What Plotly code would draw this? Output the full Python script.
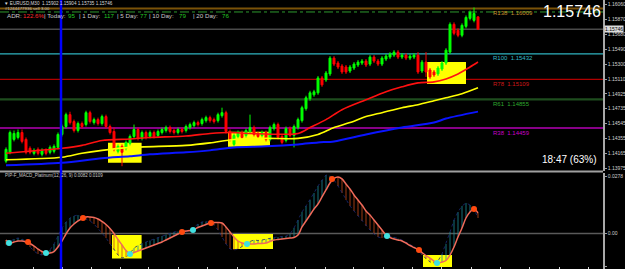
import plotly.graph_objects as go

# ---------------- price candles (EURUSD M30) ----------------
opens = [1.14068,1.14181,1.14345,1.14370,1.14433,1.14345,1.14232,1.14168,1.14219,1.14156,
         1.14206,1.14181,1.14194,1.14244,1.14408,1.14509,1.14660,1.14572,1.14458,1.14547,
         1.14534,1.14685,1.14559,1.14597,1.14547,1.14635,1.14509,1.14446,1.14194,1.14257,
         1.14232,1.14295,1.14383,1.14471,1.14358,1.14433,1.14383,1.14433,1.14395,1.14433,
         1.14458,1.14496,1.14458,1.14433,1.14471,1.14458,1.14496,1.14521,1.14559,1.14547,
         1.14584,1.14622,1.14597,1.14584,1.14647,1.14685,1.14446,1.14282,1.14383,1.14433,
         1.14395,1.14446,1.14496,1.14421,1.14395,1.14433,1.14345,1.14484,1.14534,1.14383,
         1.14332,1.14484,1.14395,1.14496,1.14584,1.14736,1.14862,1.14912,1.14937,1.15126,
         1.15101,1.15177,1.15378,1.15315,1.15277,1.15265,1.15214,1.15252,1.15290,1.15315,
         1.15340,1.15302,1.15391,1.15340,1.15302,1.15366,1.15391,1.15416,1.15454,1.15391,
         1.15416,1.15378,1.15391,1.15416,1.15214,1.15327,1.15227,1.15202,1.15177,1.15239,
         1.15315,1.15454,1.15807,1.15731,1.15668,1.15781,1.15882,1.15857,1.15902]
highs = [1.14244,1.14458,1.14458,1.14471,1.14471,1.14370,1.14257,1.14232,1.14244,1.14232,
         1.14232,1.14269,1.14282,1.14433,1.14534,1.14685,1.14697,1.14597,1.14572,1.14572,
         1.14710,1.14710,1.14622,1.14622,1.14660,1.14660,1.14534,1.14496,1.14282,1.14282,
         1.14332,1.14408,1.14534,1.14496,1.14458,1.14458,1.14458,1.14458,1.14471,1.14496,
         1.14521,1.14521,1.14484,1.14496,1.14496,1.14534,1.14559,1.14584,1.14584,1.14622,
         1.14647,1.14647,1.14622,1.14685,1.14748,1.14710,1.14471,1.14421,1.14458,1.14458,
         1.14484,1.14660,1.14521,1.14446,1.14458,1.14458,1.14521,1.14559,1.14559,1.14408,
         1.14509,1.14509,1.14534,1.14622,1.14773,1.14900,1.14963,1.14975,1.15151,1.15151,
         1.15214,1.15403,1.15403,1.15340,1.15302,1.15290,1.15290,1.15327,1.15353,1.15366,
         1.15366,1.15416,1.15416,1.15366,1.15403,1.15429,1.15454,1.15479,1.15479,1.15441,
         1.15441,1.15429,1.15441,1.15454,1.15353,1.15454,1.15252,1.15227,1.15277,1.15340,
         1.15504,1.15832,1.15832,1.15756,1.15819,1.15920,1.15983,1.16021,1.15904]
lows = [1.14043,1.14156,1.14320,1.14345,1.14295,1.14156,1.14156,1.14143,1.14143,1.14130,
        1.14143,1.14156,1.14168,1.14219,1.14383,1.14484,1.14534,1.14433,1.14433,1.14484,
        1.14509,1.14547,1.14534,1.14521,1.14521,1.14484,1.14408,1.14194,1.14168,1.14005,
        1.14206,1.14269,1.14358,1.14332,1.14332,1.14345,1.14358,1.14358,1.14370,1.14408,
        1.14433,1.14421,1.14408,1.14408,1.14421,1.14433,1.14471,1.14496,1.14509,1.14521,
        1.14559,1.14559,1.14547,1.14559,1.14622,1.14421,1.14320,1.14257,1.14358,1.14345,
        1.14370,1.14421,1.14383,1.14358,1.14370,1.14320,1.14320,1.14458,1.14345,1.14282,
        1.14307,1.14370,1.14244,1.14471,1.14559,1.14710,1.14836,1.14887,1.14912,1.15013,
        1.15076,1.15151,1.15277,1.15239,1.15177,1.15177,1.15189,1.15227,1.15265,1.15290,
        1.15265,1.15277,1.15315,1.15277,1.15277,1.15340,1.15366,1.15391,1.15366,1.15366,
        1.15353,1.15353,1.15366,1.15177,1.15189,1.15139,1.15114,1.15139,1.15151,1.15214,
        1.15290,1.15429,1.15668,1.15643,1.15643,1.15756,1.15857,1.15832,1.15735]
closes = [1.14219,1.14433,1.14421,1.14433,1.14320,1.14181,1.14181,1.14206,1.14168,1.14206,
          1.14168,1.14244,1.14257,1.14408,1.14509,1.14660,1.14559,1.14458,1.14547,1.14509,
          1.14685,1.14572,1.14597,1.14547,1.14635,1.14509,1.14433,1.14219,1.14257,1.14181,
          1.14307,1.14383,1.14471,1.14358,1.14433,1.14370,1.14433,1.14383,1.14446,1.14471,
          1.14496,1.14446,1.14433,1.14471,1.14446,1.14509,1.14534,1.14559,1.14534,1.14597,
          1.14622,1.14584,1.14572,1.14660,1.14685,1.14446,1.14345,1.14395,1.14433,1.14370,
          1.14458,1.14496,1.14408,1.14383,1.14433,1.14345,1.14496,1.14534,1.14370,1.14307,
          1.14484,1.14395,1.14509,1.14597,1.14748,1.14874,1.14937,1.14950,1.15126,1.15038,
          1.15189,1.15378,1.15302,1.15265,1.15202,1.15202,1.15265,1.15302,1.15327,1.15340,
          1.15290,1.15391,1.15340,1.15302,1.15378,1.15403,1.15429,1.15454,1.15391,1.15416,
          1.15378,1.15403,1.15416,1.15202,1.15327,1.15202,1.15139,1.15164,1.15252,1.15315,
          1.15479,1.15807,1.15693,1.15668,1.15794,1.15895,1.15958,1.15945,1.15746]

# ---------------- moving averages (read at sample bars) ----------------
red_ma_idx = [0,10,14,19,24,31,36,45,51,56,61,73,76,80,84,90,95,99,103,107,110,113,116,118]
red_ma = [1.14169,1.14213,1.14232,1.14269,1.14332,1.14351,1.14370,1.14389,1.14421,1.14433,1.14421,1.14421,
          1.14496,1.14597,1.14723,1.14849,1.14950,1.15013,1.15063,1.15076,1.15114,1.15177,1.15265,1.15328]
yellow_ma_idx = [0,14,19,24,31,45,51,57,65,73,78,82,86,90,94,99,103,107,110,114,118]
yellow_ma = [1.14087,1.14118,1.14169,1.14206,1.14244,1.14269,1.14301,1.14345,1.14358,1.14358,1.14408,
             1.14496,1.14559,1.14635,1.14685,1.14748,1.14786,1.14836,1.14874,1.14925,1.15000]
blue_ma_idx = [0,14,24,31,36,45,51,57,65,73,78,82,90,99,107,110,118]
blue_ma = [1.14017,1.14049,1.14106,1.14131,1.14156,1.14181,1.14206,1.14244,1.14257,1.14282,1.14307,
           1.14320,1.14408,1.14496,1.14559,1.14610,1.14698]

# ---------------- horizontal levels ----------------
level_names = ["R138  1.16009", "R100  1.15432", "R78  1.15109", "R61  1.14855", "R38  1.14459"]
level_prices = [1.16009, 1.15432, 1.15109, 1.14855, 1.14490]
level_colors = ["#7a5208", "#2fb3c0", "#b00000", "#1e4d1e", "#b400b4"]
level_text_colors = ["#c8902c", "#35b8c8", "#d01818", "#2ea82e", "#c800c8"]
level_widths = [2, 1.2, 1.2, 2.2, 1.3]
adr_line_price = 1.15964
last_price = 1.15746

# ---------------- MACD panel ----------------
signal_vals = [-0.00315,-0.00460,-0.00411,-0.00363,-0.00363,-0.00411,-0.00484,-0.00605,-0.00750,-0.00871,
               -0.00944,-0.00944,-0.00871,-0.00653,-0.00363,-0.00024,0.00266,0.00460,0.00605,0.00726,
               0.00799,0.00799,0.00774,0.00702,0.00581,0.00436,0.00242,0.00000,-0.00290,-0.00557,
               -0.00823,-0.00992,-0.00920,-0.00847,-0.00774,-0.00702,-0.00629,-0.00557,-0.00484,-0.00411,
               -0.00315,-0.00218,-0.00121,-0.00024,0.00073,0.00121,0.00145,0.00194,0.00290,0.00363,
               0.00436,0.00508,0.00532,0.00532,0.00508,0.00315,0.00073,-0.00169,-0.00363,-0.00460,
               -0.00508,-0.00508,-0.00508,-0.00484,-0.00484,-0.00460,-0.00387,-0.00315,-0.00290,-0.00266,
               -0.00242,-0.00218,-0.00194,-0.00073,0.00315,0.00605,0.00895,0.01186,0.01428,0.01767,
               0.02105,0.02444,0.02662,0.02735,0.02638,0.02396,0.02154,0.01863,0.01621,0.01379,
               0.01089,0.00895,0.00653,0.00411,0.00169,-0.00073,-0.00194,-0.00266,-0.00315,-0.00363,
               -0.00460,-0.00581,-0.00678,-0.00774,-0.00920,-0.01065,-0.01186,-0.01331,-0.01428,-0.01379,
               -0.01307,-0.01041,-0.00653,-0.00169,0.00266,0.00750,0.01041,0.01186,0.00992]
macd_vals = [-0.00532,-0.00411,-0.00266,-0.00218,-0.00266,-0.00387,-0.00653,-0.00847,-0.00992,-0.01041,
             -0.00944,-0.00799,-0.00508,-0.00121,0.00266,0.00557,0.00750,0.00847,0.00895,0.00774,
             0.00702,0.00605,0.00460,0.00266,0.00024,-0.00218,-0.00508,-0.00799,-0.01041,-0.01186,
             -0.01137,-0.00968,-0.00702,-0.00581,-0.00484,-0.00411,-0.00339,-0.00266,-0.00194,-0.00121,
             -0.00048,0.00024,0.00073,0.00097,0.00073,0.00073,0.00145,0.00290,0.00460,0.00557,
             0.00581,0.00508,0.00411,0.00169,-0.00169,-0.00508,-0.00750,-0.00799,-0.00750,-0.00629,
             -0.00508,-0.00387,-0.00315,-0.00339,-0.00315,-0.00266,-0.00218,-0.00194,-0.00169,-0.00145,
             -0.00121,-0.00024,0.00266,0.00653,0.01041,0.01331,0.01621,0.01960,0.02299,0.02589,
             0.02831,0.02783,0.02589,0.02299,0.01960,0.01621,0.01331,0.01089,0.00847,0.00605,
             0.00363,0.00169,-0.00024,-0.00169,-0.00218,-0.00073,-0.00121,-0.00169,-0.00242,-0.00315,
             -0.00411,-0.00532,-0.00653,-0.00799,-0.01041,-0.01234,-0.01379,-0.01428,-0.01331,-0.00992,
             -0.00508,0.00073,0.00653,0.01041,0.01331,0.01476,0.01379,0.01186,0.00750]
cross_idx = [0.75,5.5,10,19.25,31,44,46.75,51.25,60.25,81.5,95.25,103.25,107.75,117]
cross_vals = [-0.00460,-0.00411,-0.00944,0.00750,-0.00992,0.00073,0.00169,0.00508,-0.00508,0.02638,
              -0.00121,-0.00799,-0.01428,0.01186]
cross_kind = ["up","down","up","down","up","down","up","down","up","down","up","down","up","down"]

# highlight boxes (bar index span, value span)
main_boxes = [(25.5, 33.9, 1.14050, 1.14304), (55.5, 66.0, 1.14253, 1.14443), (105.25, 115.0, 1.15049, 1.15329)]
macd_boxes = [(26.5, 33.9, -0.01209, -0.00073), (56.75, 66.75, -0.00750, -0.00024), (104.25, 111.5, -0.01620, -0.01040)]
session_line_idx = 13.75

main_ticks = [1.16060,1.15870,1.15680,1.15490,1.15300,1.15110,1.14925,1.14735,1.14545,1.14355,1.14165,1.13975]
main_tick_text = ["1.16060","1.15870","1.15680","1.15490","1.15300","1.15110","1.14925","1.14735","1.14545","1.14355","1.14165","1.13975"]
macd_ticks = [0.0278, 0.0, -0.0162]
macd_tick_text = ["0.0278", "0.00", "-0.0162"]
time_ticks = [6.75,14,21.25,28.5,35.5,43,50.25,57.75,64.75,72.25,79.75,86.75,94.25,101.5,108.75,116.25,123.5,130.75,138.25,145.5]

# ---------------- figure ----------------
W, H = 625, 269
PW = 603.0
FONT = "Liberation Sans"
n = len(closes)
idx = list(range(n))

fig = go.Figure()
fig.add_trace(go.Candlestick(
    x=idx, open=opens, high=highs, low=lows, close=closes,
    increasing=dict(line=dict(color="#00ff00", width=1), fillcolor="#00ff00"),
    decreasing=dict(line=dict(color="#ff0000", width=1), fillcolor="#ff0000"),
    whiskerwidth=0, xaxis="x", yaxis="y", showlegend=False, hoverinfo="skip"))
for xs, ys, col, w in [(blue_ma_idx, blue_ma, "#0a14ff", 2.0),
                       (yellow_ma_idx, yellow_ma, "#ffff00", 1.6),
                       (red_ma_idx, red_ma, "#ff1010", 1.6)]:
    fig.add_trace(go.Scatter(x=xs, y=ys, mode="lines", line=dict(color=col, width=w, shape="spline", smoothing=0.8),
                             xaxis="x", yaxis="y", showlegend=False, hoverinfo="skip"))

# MACD histogram segments
tx, ty, ox, oy = [], [], [], []
for i in idx:
    if macd_vals[i] >= signal_vals[i]:
        tx += [i, i, None]; ty += [signal_vals[i], macd_vals[i], None]
    else:
        ox += [i, i, None]; oy += [signal_vals[i], macd_vals[i], None]
fig.add_trace(go.Scatter(x=tx, y=ty, mode="lines", line=dict(color="#1a8a96", width=0.8),
                         xaxis="x2", yaxis="y2", showlegend=False, hoverinfo="skip"))
fig.add_trace(go.Scatter(x=ox, y=oy, mode="lines", line=dict(color="#c44a18", width=0.8),
                         xaxis="x2", yaxis="y2", showlegend=False, hoverinfo="skip"))
fig.add_trace(go.Scatter(x=idx, y=macd_vals, mode="lines", line=dict(color="#1c2a78", width=0.8, dash="dot"),
                         xaxis="x2", yaxis="y2", showlegend=False, hoverinfo="skip"))
fig.add_trace(go.Scatter(x=idx, y=signal_vals, mode="lines", line=dict(color="#f06a5a", width=1.5, shape="spline"),
                         xaxis="x2", yaxis="y2", showlegend=False, hoverinfo="skip"))
fig.add_trace(go.Scatter(x=cross_idx, y=cross_vals, mode="markers",
                         marker=dict(size=6, color=["#40e0e0" if k == "up" else "#ff4a10" for k in cross_kind]),
                         xaxis="x2", yaxis="y2", showlegend=False, hoverinfo="skip"))

shapes = []
for x0, x1, y0, y1 in main_boxes:
    shapes.append(dict(type="rect", xref="x", yref="y", x0=x0, x1=x1, y0=y0, y1=y1,
                       fillcolor="#ffff00", line=dict(width=0), layer="below"))
for x0, x1, y0, y1 in macd_boxes:
    shapes.append(dict(type="rect", xref="x2", yref="y2", x0=x0, x1=x1, y0=y0, y1=y1,
                       fillcolor="#ffff00", line=dict(width=0), layer="below"))
for p, c, w in zip(level_prices, level_colors, level_widths):
    shapes.append(dict(type="line", xref="paper", yref="y", x0=0, x1=1, y0=p, y1=p,
                       line=dict(color=c, width=w), layer="below"))
shapes.append(dict(type="line", xref="paper", yref="y", x0=0, x1=1, y0=adr_line_price, y1=adr_line_price,
                   line=dict(color="#2e9a2e", width=1, dash="dashdot"), layer="below"))
shapes.append(dict(type="line", xref="paper", yref="y", x0=0, x1=1, y0=last_price, y1=last_price,
                   line=dict(color="#4a4a4a", width=1.5), layer="below"))
shapes.append(dict(type="line", xref="paper", yref="y2", x0=0, x1=1, y0=0, y1=0,
                   line=dict(color="#5a5a5a", width=1.5), layer="below"))
shapes.append(dict(type="line", xref="paper", yref="paper", x0=0, x1=1, y0=1 - 171.5 / H, y1=1 - 171.5 / H,
                   line=dict(color="#a0a0a0", width=2)))
shapes.append(dict(type="line", xref="x", yref="paper", x0=session_line_idx, x1=session_line_idx, y0=0, y1=1,
                   line=dict(color="#0000ff", width=2.5)))

ann = []
def txt(px, py, text, color, size, anchor="left", **kw):
    ann.append(dict(xref="paper", yref="paper", x=px / PW, y=1 - py / H, text=text, showarrow=False,
                    xanchor=anchor, yanchor="middle", font=dict(color=color, size=size, family=FONT), **kw))

txt(2, 3.5, "▼ EURUSD,M30  1.15902 1.15904 1.15735 1.15746", "#d8d8d8", 4.6)
txt(3, 8.5, "#1244477936 sell 3.00", "#c8c8c8", 4.4)
adr_parts = [(5, "ADR:", "#c8c8c8"), (21, "122.6%", "#ff2a2a"), (42, "| Today:", "#c8c8c8"), (66, "95", "#22c822"),
             (77, "| 1 Day:", "#c8c8c8"), (102, "117", "#22c822"), (115, "| 5 Day:", "#c8c8c8"), (138, "77", "#22c822"),
             (147, "| 10 Day:", "#c8c8c8"), (177, "79", "#22c822"), (191, "| 20 Day:", "#c8c8c8"), (220, "76", "#22c822")]
for px, t, c in adr_parts:
    txt(px, 15.5, t, c, 6.2)
txt(603, 11, "1.15746", "#ffffff", 16, anchor="right")
txt(598, 159, "18:47 (63%)", "#ffffff", 10, anchor="right")
txt(3, 175.5, "PIP-F_MACD_Platinum(12, 26, 9) 0.0082 0.0109", "#c8c8c8", 4.5)
for name, p, c in zip(level_names, level_prices, level_text_colors):
    ann.append(dict(xref="paper", yref="y", x=491 / PW, y=p, text=name, showarrow=False, xanchor="left",
                    yanchor="top", yshift=0.5, font=dict(color=c, size=6, family=FONT)))
ann.append(dict(xref="paper", yref="y", x=604 / PW, y=last_price, text="1.15746", showarrow=False, xanchor="left",
                yanchor="middle", bgcolor="#dcdcdc", borderpad=0, font=dict(color="#000000", size=5, family=FONT)))

axis_common = dict(showgrid=False, zeroline=False)
fig.update_layout(
    width=W, height=H, margin=dict(l=0, r=W - PW, t=0, b=0),
    paper_bgcolor="#000000", plot_bgcolor="#000000", template="none", showlegend=False,
    xaxis=dict(domain=[0, 1], range=[-1.5, 149.25], anchor="y", showticklabels=False, ticks="",
               rangeslider=dict(visible=False), **axis_common),
    xaxis2=dict(domain=[0, 1], range=[-1.5, 149.25], anchor="y2", matches="x", showticklabels=False,
                tickmode="array", tickvals=time_ticks, ticks="inside", ticklen=2, tickcolor="#d0d0d0", **axis_common),
    yaxis=dict(domain=[1 - 171 / H, 1], range=[1.13944, 1.16116], side="right", anchor="x",
               tickmode="array", tickvals=main_ticks, ticktext=main_tick_text, ticks="outside", ticklen=2,
               tickcolor="#a0a0a0", showline=True, linecolor="#a8a8a8", linewidth=1.5, automargin=False,
               tickfont=dict(size=5, color="#d0d0d0", family=FONT), **axis_common),
    yaxis2=dict(domain=[0, 1 - 173 / H], range=[-0.01717, 0.02926], side="right", anchor="x2",
                tickmode="array", tickvals=macd_ticks, ticktext=macd_tick_text, ticks="outside", ticklen=2,
                tickcolor="#a0a0a0", showline=True, linecolor="#a8a8a8", linewidth=1.5, automargin=False,
                tickfont=dict(size=5, color="#d0d0d0", family=FONT), **axis_common),
    shapes=shapes, annotations=ann,
)
fig.write_html("out.html")
